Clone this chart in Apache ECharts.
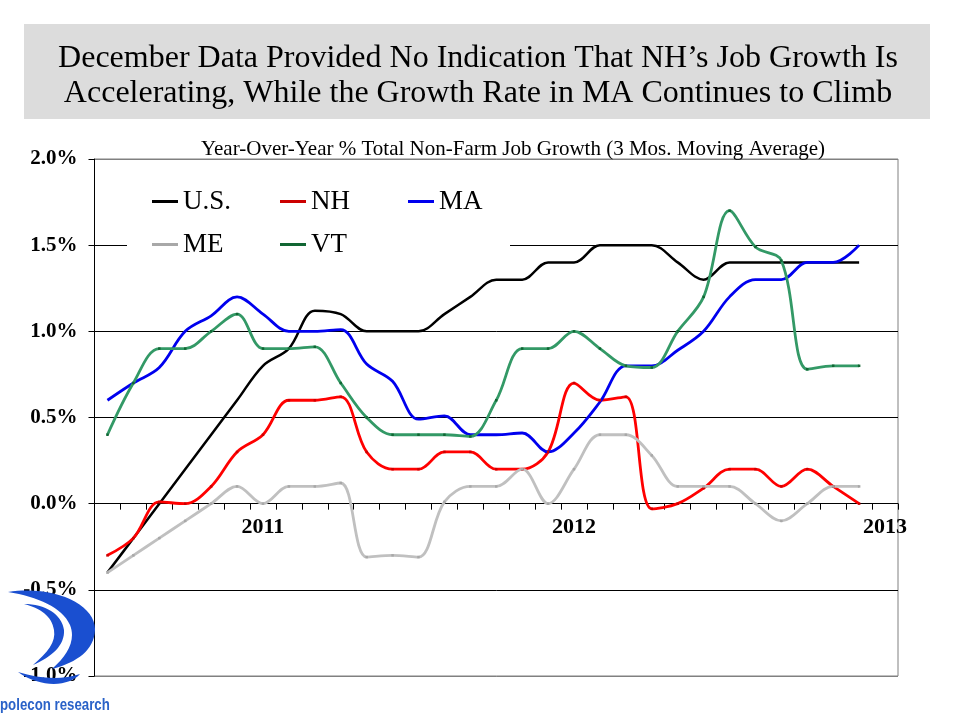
<!DOCTYPE html>
<html>
<head>
<meta charset="utf-8">
<script src="https://cdn.jsdelivr.net/npm/echarts@6/dist/echarts.min.js"></script>
<style>
html,body{margin:0;padding:0;background:#fff;}
#chart{width:960px;height:720px;}
</style>
</head>
<body>
<div id="chart"></div>
<script>
// Months Jul 2010 .. Jan 2013 (last category has no data)
const categories = ['Jul-10','Aug-10','Sep-10','Oct-10','Nov-10','Dec-10',
  'Jan-11','Feb-11','Mar-11','Apr-11','May-11','Jun-11','Jul-11','Aug-11','Sep-11','Oct-11','Nov-11','Dec-11',
  'Jan-12','Feb-12','Mar-12','Apr-12','May-12','Jun-12','Jul-12','Aug-12','Sep-12','Oct-12','Nov-12','Dec-12',
  'Jan-13'];
const yearTickLabels = {'Jan-11':'2011','Jan-12':'2012','Jan-13':'2013'};

const US = [-0.4,-0.2,0.0,0.2,0.4,0.6,0.8,0.9,1.12,1.1,1.0,1.0,1.0,1.1,1.2,1.3,1.3,1.4,1.4,1.5,1.5,1.5,1.4,1.3,1.4,1.4,1.4,1.4,1.4,1.4,null];
const NH = [-0.3,-0.2,0.01,0.0,0.1,0.3,0.4,0.6,0.6,0.62,0.3,0.2,0.2,0.3,0.3,0.2,0.2,0.3,0.7,0.6,0.62,-0.03,0.0,0.09,0.2,0.2,0.1,0.2,0.1,0.0,null];
const MA = [0.6,0.7,0.79,1.0,1.09,1.2,1.1,1.0,1.0,1.01,0.81,0.71,0.49,0.51,0.4,0.4,0.41,0.3,0.41,0.59,0.8,0.8,0.89,1.0,1.2,1.3,1.3,1.4,1.4,1.5,null];
const ME = [-0.4,-0.3,-0.2,-0.1,0.0,0.1,0.0,0.1,0.1,0.12,-0.31,-0.3,-0.31,0.01,0.1,0.1,0.2,0.0,0.2,0.4,0.4,0.28,0.1,0.1,0.1,0.0,-0.1,0.0,0.1,0.1,null];
const VT = [0.4,0.7,0.9,0.9,1.0,1.1,0.9,0.9,0.91,0.7,0.5,0.4,0.4,0.4,0.39,0.6,0.9,0.9,1.0,0.9,0.8,0.79,1.0,1.2,1.7,1.49,1.41,0.78,0.8,0.8,null];

const serif = 'Liberation Serif, Times New Roman, serif';

const logoSvg = '<svg xmlns="http://www.w3.org/2000/svg" width="100" height="100" viewBox="0 0 100 100">' +
  '<path d="M8,2 C55,-5 96,15 95,40 C94,60 78,72 52,79 C68,65 76,50 70,35 C62,17 38,7 8,2 Z" fill="#1a4fd0"/>' +
  '<path d="M24,14 C45,14 62,24 64,40 C65,55 52,67 33,75 C48,62 56,52 54,40 C52,26 40,18 24,14 Z" fill="#1a4fd0"/>' +
  '<path d="M18,82 C40,89 62,90 80,84 C70,96 42,99 18,82 Z" fill="#1a4fd0"/>' +
  '</svg>';
const logoUri = 'data:image/svg+xml;charset=utf-8,' + encodeURIComponent(logoSvg);

const chart = echarts.init(document.getElementById('chart'));

function mkSeries(name, data, color, width, sym, symColor){
  return {
    name: name, type: 'line', data: data, smooth: 0.35,
    symbol: sym ? 'rect' : 'none', symbolSize: 2.5, showSymbol: !!sym,
    lineStyle: {color: color, width: width},
    itemStyle: {color: symColor || color},
    emphasis: {disabled: true},
    connectNulls: false
  };
}

function mkLegend(name, left, top){
  return {
    show: true, left: left, top: top, padding: 0, z: 5,
    icon: 'rect', itemWidth: 26, itemHeight: 3, itemGap: 0,
    data: [name],
    textStyle: {fontFamily: serif, fontSize: 27, color: '#000', padding: [0,0,0,0]}
  };
}

chart.setOption({
  animation: false,
  backgroundColor: '#fff',
  title: [
    {text: 'December Data Provided No Indication That NH\u2019s Job Growth Is\nAccelerating, While the Growth Rate in MA Continues to Climb',
     left: 473, top: 36, textAlign: 'center',
     textStyle: {fontFamily: serif, fontSize: 32, fontWeight: 'normal', color: '#000', lineHeight: 35}},
    {text: 'Year-Over-Year % Total Non-Farm Job Growth (3 Mos. Moving Average)',
     left: 508, top: 134, textAlign: 'center',
     textStyle: {fontFamily: serif, fontSize: 21, fontWeight: 'normal', color: '#000'}}
  ],
  graphic: [
    {type: 'rect', z: -10, shape: {x: 24, y: 24, width: 906, height: 95}, style: {fill: '#dcdcdc'}},
    {type: 'rect', z: 1, shape: {x: 127, y: 173, width: 383, height: 98}, style: {fill: '#fff'}},
    {type: 'image', z: 10, left: 0, top: 590, style: {image: logoUri, width: 100, height: 100}},
    {type: 'text', z: 10, x: 0, y: 697, scaleX: 0.78, style: {text: 'polecon research', fill: '#2a62c8', font: 'bold 17px Liberation Sans, Arial, sans-serif'}}
  ],
  legend: [
    mkLegend('U.S.', 152, 188),
    mkLegend('NH', 280, 188),
    mkLegend('MA', 408, 188),
    mkLegend('ME', 152, 231),
    mkLegend('VT', 280, 231)
  ],
  grid: {left: 94.5, right: 62, top: 159, bottom: 44, show: true, borderColor: '#808080', borderWidth: 1},
  xAxis: [{
    type: 'category', data: categories, boundaryGap: true,
    axisLine: {show: true, onZero: true, lineStyle: {color: '#000', width: 1}},
    axisTick: {show: true, interval: 0, length: 6, inside: false, lineStyle: {color: '#000'}},
    axisLabel: {show: false},
    splitLine: {show: false}
  }, {
    type: 'category', data: categories, boundaryGap: true, position: 'bottom',
    offset: -172.3,
    axisLine: {show: false, onZero: false},
    axisTick: {show: false},
    axisLabel: {
      interval: function(i, v){ return yearTickLabels[v] !== undefined; },
      formatter: function(v){ return yearTickLabels[v] || ''; },
      fontFamily: serif, fontWeight: 'bold', fontSize: 22, color: '#000', margin: 13
    },
    splitLine: {show: false}
  }],
  yAxis: {
    type: 'value', min: -1, max: 2, interval: 0.5,
    axisLine: {show: true, lineStyle: {color: '#000', width: 1}},
    axisTick: {show: true, length: 6, lineStyle: {color: '#000'}},
    axisLabel: {formatter: function(v){ return v.toFixed(1) + '%'; },
      fontFamily: serif, fontWeight: 'bold', fontSize: 21, color: '#000', margin: 17},
    splitLine: {show: true, lineStyle: {color: ['#808080','#000','#000','#000','#000','#000','#808080'], width: 1}}
  },
  series: [
    mkSeries('U.S.', US, '#000000', 2.5, false),
    mkSeries('NH', NH, '#ff0000', 2.8, true, '#cc0000'),
    mkSeries('MA', MA, '#0000ee', 2.8, false),
    mkSeries('ME', ME, '#c0c0c0', 2.8, true, '#a8a8a8'),
    mkSeries('VT', VT, '#339966', 2.8, true, '#116633')
  ]
});
</script>
</body>
</html>
